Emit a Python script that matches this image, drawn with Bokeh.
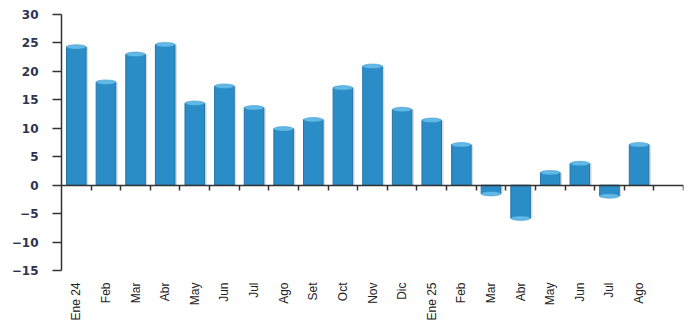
import math
from bokeh.plotting import figure
from bokeh.models import Range1d, FixedTicker, LinearAxis, ColumnDataSource
from bokeh.embed import file_html
from bokeh.resources import INLINE

# Monthly values, Jan 2024 - Aug 2025
months = ["Ene 24", "Feb", "Mar", "Abr", "May", "Jun", "Jul", "Ago", "Set", "Oct",
          "Nov", "Dic", "Ene 25", "Feb", "Mar", "Abr", "May", "Jun", "Jul", "Ago"]
values = [24.3, 18.1, 23.0, 24.7, 14.4, 17.4, 13.6, 9.9, 11.5, 17.1,
          20.9, 13.3, 11.4, 7.1, -1.5, -5.8, 2.2, 3.8, -1.9, 7.1]
y_ticks = [30, 25, 20, 15, 10, 5, 0, -5, -10, -15]
n_slots = len(months) + 1  # one empty slot after the last month

idx = list(range(len(months)))
src = ColumnDataSource(dict(x=idx, v=values, xs=[i + 0.07 for i in idx]))

p = figure(width=689, height=324, output_backend="svg", toolbar_location=None,
           x_range=Range1d(-0.5, n_slots - 0.5), y_range=Range1d(min(y_ticks), max(y_ticks)),
           min_border_left=61, min_border_right=6, min_border_top=14, min_border_bottom=54)
p.outline_line_color = None
p.xgrid.visible = False
p.ygrid.visible = False
p.background_fill_color = "white"

# soft shadow, bar body and a lighter cap at the bar end
p.vbar(x="xs", top="v", bottom=0, width=0.66, source=src,
       fill_color="#9a9a9a", fill_alpha=0.35, line_color=None)
p.vbar(x="x", top="v", bottom=0, width=0.66, source=src,
       fill_color="#2B8DC7", line_color="#2275A8", line_width=1)
p.ellipse(x="x", y="v", width=0.66, height=0.8, source=src,
          fill_color="#62B9E6", line_color="#2B8DC7", line_width=0.5)

# y axis
ya = p.yaxis[0]
ya.ticker = FixedTicker(ticks=y_ticks)
ya.axis_line_color = "#333333"
ya.axis_line_width = 1.5
ya.major_tick_out = 9
ya.major_tick_in = 0
ya.major_tick_line_color = "#333333"
ya.major_tick_line_width = 1.5
ya.minor_tick_line_color = None
ya.major_label_standoff = 14
ya.major_label_text_font = "DejaVu Sans"
ya.major_label_text_font_style = "bold"
ya.major_label_text_font_size = "12px"
ya.major_label_text_color = "#2d3350"

# month labels at the bottom of the frame
xa = p.xaxis[0]
xa.ticker = FixedTicker(ticks=idx)
xa.major_label_overrides = {i: m for i, m in zip(idx, months)}
xa.major_label_orientation = math.pi / 2
xa.axis_line_color = None
xa.major_tick_line_color = None
xa.minor_tick_line_color = None
xa.major_label_standoff = 6
xa.major_label_text_font = "Liberation Sans"
xa.major_label_text_font_size = "12px"
xa.major_label_text_color = "#222222"

# zero line with tick marks between categories (no labels of its own)
zero_ticks = [i + 0.5 for i in range(n_slots)]
za = LinearAxis(fixed_location=0, ticker=FixedTicker(ticks=zero_ticks))
za.axis_line_color = "#333333"
za.axis_line_width = 1.5
za.major_tick_out = 5
za.major_tick_in = 0
za.major_tick_line_color = "#333333"
za.major_tick_line_width = 1.5
za.minor_tick_line_color = None
za.major_label_text_font_size = "11px"
za.major_label_text_alpha = 0
za.major_label_overrides = {t: "" for t in zero_ticks}
za.major_label_standoff = 0
p.add_layout(za, "below")

open("out.html", "w").write(file_html(p, INLINE))
